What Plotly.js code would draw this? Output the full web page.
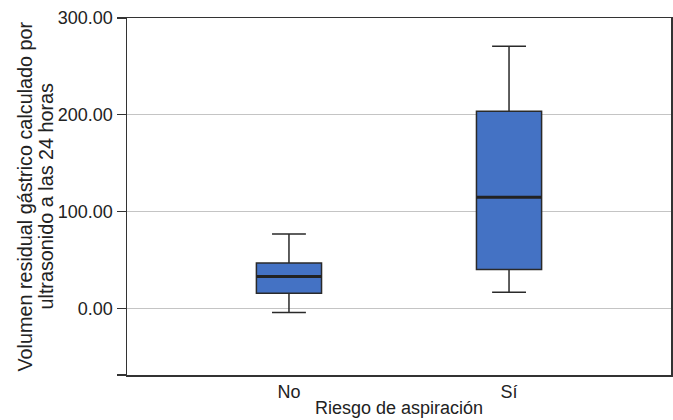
<!DOCTYPE html>
<html>
<head>
<meta charset="utf-8">
<script src="https://cdn.plot.ly/plotly-3.0.1.min.js"></script>
<style>html,body{margin:0;padding:0;background:#fff;}#chart{width:673px;height:420px;}</style>
</head>
<body>
<div id="chart"></div>
<script>
const categories = ['No', 'Sí'];
const lowerWhisker = [-4.4, 16.5];
const q1Values = [15.5, 40.0];
const medianValues = [32.8, 114.8];
const q3Values = [46.8, 203.7];
const upperWhisker = [76.8, 270.9];
const yTickVals = [-69, 0, 100, 200, 300];
const yTickText = ['', '0.00', '100.00', '200.00', '300.00'];
const yTitleLines = ['Volumen residual gástrico calculado por', 'ultrasonido a las 24 horas'];
const xTitle = 'Riesgo de aspiración';

const boxWidth = 0.296;
const trace = {
  type: 'box',
  x: categories,
  q1: q1Values,
  median: medianValues,
  q3: q3Values,
  lowerfence: lowerWhisker,
  upperfence: upperWhisker,
  width: boxWidth,
  whiskerwidth: 0.52,
  fillcolor: '#4472C4',
  line: {color: '#2a2a2a', width: 1.5},
  boxpoints: false,
  hoverinfo: 'none',
  showlegend: false
};

const shapes = medianValues.map((m, i) => ({
  type: 'line', xref: 'x', yref: 'y',
  x0: i - boxWidth / 2, x1: i + boxWidth / 2, y0: m, y1: m,
  line: {color: '#222222', width: 3}
}));

const family = '"Liberation Sans", Arial, Helvetica, sans-serif';
const font = {family: family, size: 18, color: '#222222'};
const yTitleFont = {family: family, size: 19.8, color: '#222222'};

const annotations = yTitleLines.map((t, i) => ({
  text: t, xref: 'paper', yref: 'paper',
  x: [-0.1893, -0.1507][i], y: 0.5,
  xanchor: 'center', yanchor: 'middle',
  textangle: -90, showarrow: false, font: yTitleFont
}));

const layout = {
  width: 673, height: 420,
  margin: {l: 127, r: 2, t: 18, b: 45},
  paper_bgcolor: '#ffffff', plot_bgcolor: '#ffffff',
  font: font,
  shapes: shapes,
  annotations: annotations,
  xaxis: {
    type: 'category',
    range: [-0.736, 1.736],
    showline: true, mirror: true, linecolor: '#333333', linewidth: 1.5,
    ticks: '', showgrid: false, zeroline: false,
    tickfont: font,
    title: {text: xTitle, font: font, standoff: 0}
  },
  yaxis: {
    range: [-69, 300],
    tickvals: yTickVals, ticktext: yTickText,
    showline: true, mirror: true, linecolor: '#333333', linewidth: 1.5,
    ticks: 'outside', ticklen: 9, tickcolor: '#333333', tickwidth: 1.2,
    showgrid: true, gridcolor: '#c4c4c4', gridwidth: 1,
    zeroline: false,
    tickfont: font
  }
};

Plotly.newPlot('chart', [trace], layout, {displayModeBar: false, staticPlot: true});
</script>
</body>
</html>
